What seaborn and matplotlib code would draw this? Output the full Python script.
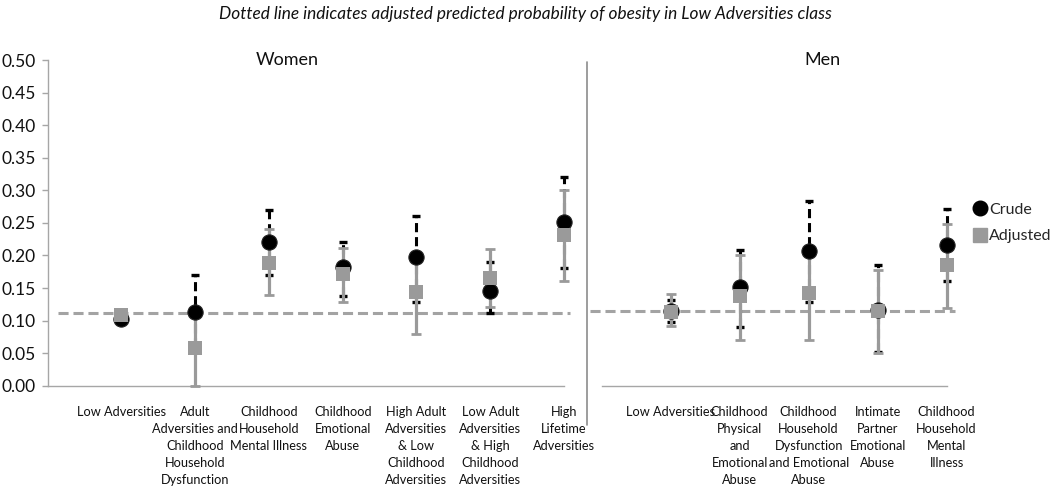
import matplotlib
matplotlib.use('Agg')
import matplotlib.pyplot as plt
from matplotlib.lines import Line2D
import numpy as np
import pandas as pd
import seaborn as sns

# 数据：女性
women_cats = ['Low Adversities',
              'Adult\nAdversities and\nChildhood\nHousehold\nDysfunction',
              'Childhood\nHousehold\nMental Illness',
              'Childhood\nEmotional\nAbuse',
              'High Adult\nAdversities\n& Low\nChildhood\nAdversities',
              'Low Adult\nAdversities\n& High\nChildhood\nAdversities',
              'High\nLifetime\nAdversities']
women_crude = [0.103, 0.113, 0.220, 0.183, 0.198, 0.146, 0.251]
women_crude_lo = [0.097, 0.060, 0.170, 0.138, 0.129, 0.111, 0.180]
women_crude_hi = [0.110, 0.170, 0.269, 0.220, 0.260, 0.190, 0.321]
women_adj = [0.108, 0.058, 0.188, 0.172, 0.144, 0.166, 0.231]
women_adj_lo = [0.100, 0.000, 0.139, 0.129, 0.080, 0.121, 0.160]
women_adj_hi = [0.116, 0.120, 0.240, 0.211, 0.200, 0.210, 0.300]
women_ref = 0.111

# 数据：男性
men_cats = ['Low Adversities',
            'Childhood\nPhysical\nand\nEmotional\nAbuse',
            'Childhood\nHousehold\nDysfunction\nand Emotional\nAbuse',
            'Intimate\nPartner\nEmotional\nAbuse',
            'Childhood\nHousehold\nMental\nIllness']
men_crude = [0.114, 0.152, 0.207, 0.117, 0.216]
men_crude_lo = [0.098, 0.090, 0.129, 0.051, 0.161]
men_crude_hi = [0.132, 0.209, 0.283, 0.185, 0.271]
men_adj = [0.113, 0.138, 0.143, 0.115, 0.185]
men_adj_lo = [0.092, 0.070, 0.070, 0.050, 0.120]
men_adj_hi = [0.141, 0.200, 0.200, 0.178, 0.249]
men_ref = 0.115

sns.set_style('white')
plt.rcParams['font.family'] = ['Lato', 'DejaVu Sans']

GREY = '#9a9a9a'
AXGREY = '#a6a6a6'

fig = plt.figure(figsize=(10.5, 5.01), dpi=100)
ax_w = fig.add_axes([0.0454, 0.2301, 0.4917, 0.6501])
ax_m = fig.add_axes([0.5730, 0.2301, 0.3286, 0.6501])


def draw_panel(ax, cats, crude, crude_lo, crude_hi, adj, adj_lo, adj_hi, ref, ref_span):
    n = len(cats)
    x = np.arange(1, n + 1)
    df = pd.DataFrame({'x': x, 'crude': crude, 'adj': adj})
    crude = np.array(crude)
    adj = np.array(adj)

    # 参考线
    ax.plot(ref_span, [ref, ref], color='#a3a3a3', lw=2.2,
            linestyle=(0, (3.3, 1.6)), clip_on=False, zorder=1)

    # 误差线
    eb = ax.errorbar(x, crude, yerr=[crude - np.array(crude_lo), np.array(crude_hi) - crude],
                     fmt='none', ecolor='black', elinewidth=2.2, capsize=3, capthick=2.4,
                     zorder=2, clip_on=False)
    eb[2][0].set_linestyle((0, (3.0, 1.6)))
    ax.errorbar(x, adj, yerr=[adj - np.array(adj_lo), np.array(adj_hi) - adj],
                fmt='none', ecolor=GREY, elinewidth=2.3, capsize=3.6, capthick=2.0,
                zorder=3, clip_on=False)

    # 点
    sns.scatterplot(data=df, x='x', y='crude', ax=ax, marker='o', s=120, color='black',
                    edgecolor='#222222', linewidth=0.8, zorder=4, clip_on=False)
    sns.scatterplot(data=df, x='x', y='adj', ax=ax, marker='s', s=115, color=GREY,
                    edgecolor=GREY, linewidth=0, zorder=5, clip_on=False)

    ax.set_xlim(0, n)
    ax.set_ylim(0, 0.5)
    ax.set_xticks(np.arange(0, n + 1))
    ax.set_xticklabels([''] + cats, fontsize=9.2, linespacing=1.5, va='top', color='#111111')
    ax.set_xlabel('')
    ax.set_ylabel('')
    ax.tick_params(axis='x', direction='out', length=4.5, width=1, color=AXGREY, pad=10)
    for s in ['top', 'right']:
        ax.spines[s].set_visible(False)
    ax.spines['bottom'].set_color(AXGREY)
    ax.spines['bottom'].set_linewidth(1)


draw_panel(ax_w, women_cats, women_crude, women_crude_lo, women_crude_hi,
           women_adj, women_adj_lo, women_adj_hi, women_ref, [0.14, 7.08])
draw_panel(ax_m, men_cats, men_crude, men_crude_lo, men_crude_hi,
           men_adj, men_adj_lo, men_adj_hi, men_ref, [-0.17, 5.12])

ax_w.set_yticks(np.arange(0, 0.51, 0.05))
ax_w.set_yticklabels([f'{v:.2f}' for v in np.arange(0, 0.51, 0.05)], fontsize=12.5, color='#111111')
ax_w.tick_params(axis='y', direction='out', length=4.5, width=1, color=AXGREY, pad=4, left=True)
ax_w.spines['left'].set_color(AXGREY)
ax_w.spines['left'].set_linewidth(1)

ax_m.spines['left'].set_visible(False)
ax_m.set_yticks([])

# 分隔线
fig.add_artist(Line2D([586.7 / 1050, 586.7 / 1050], [1 - 62 / 501, 1 - 425 / 501],
                      color='#8c8c8c', lw=1.2, transform=fig.transFigure))

# 标题文字
fig.text(525 / 1050, 1 - 14 / 501, 'Dotted line indicates adjusted predicted probability of obesity in Low Adversities class',
         ha='center', va='center', fontsize=12.4, style='italic', color='#111111')
fig.text(287 / 1050, 1 - 60 / 501, 'Women', ha='center', va='center', fontsize=13, color='#111111')
fig.text(822 / 1050, 1 - 60 / 501, 'Men', ha='center', va='center', fontsize=13, color='#111111')

# 图例
handles = [Line2D([], [], marker='o', color='black', linestyle='none', markersize=10.5),
           Line2D([], [], marker='s', color=GREY, linestyle='none', markersize=10.5)]
fig.legend(handles, ['Crude', 'Adjusted'], loc='center left',
           bbox_to_anchor=(966 / 1050, 1 - 223 / 501), frameon=False, fontsize=11.5,
           handletextpad=0.05, handlelength=1.0, labelspacing=0.75, borderaxespad=0)

fig.savefig('out.png', dpi=100)
